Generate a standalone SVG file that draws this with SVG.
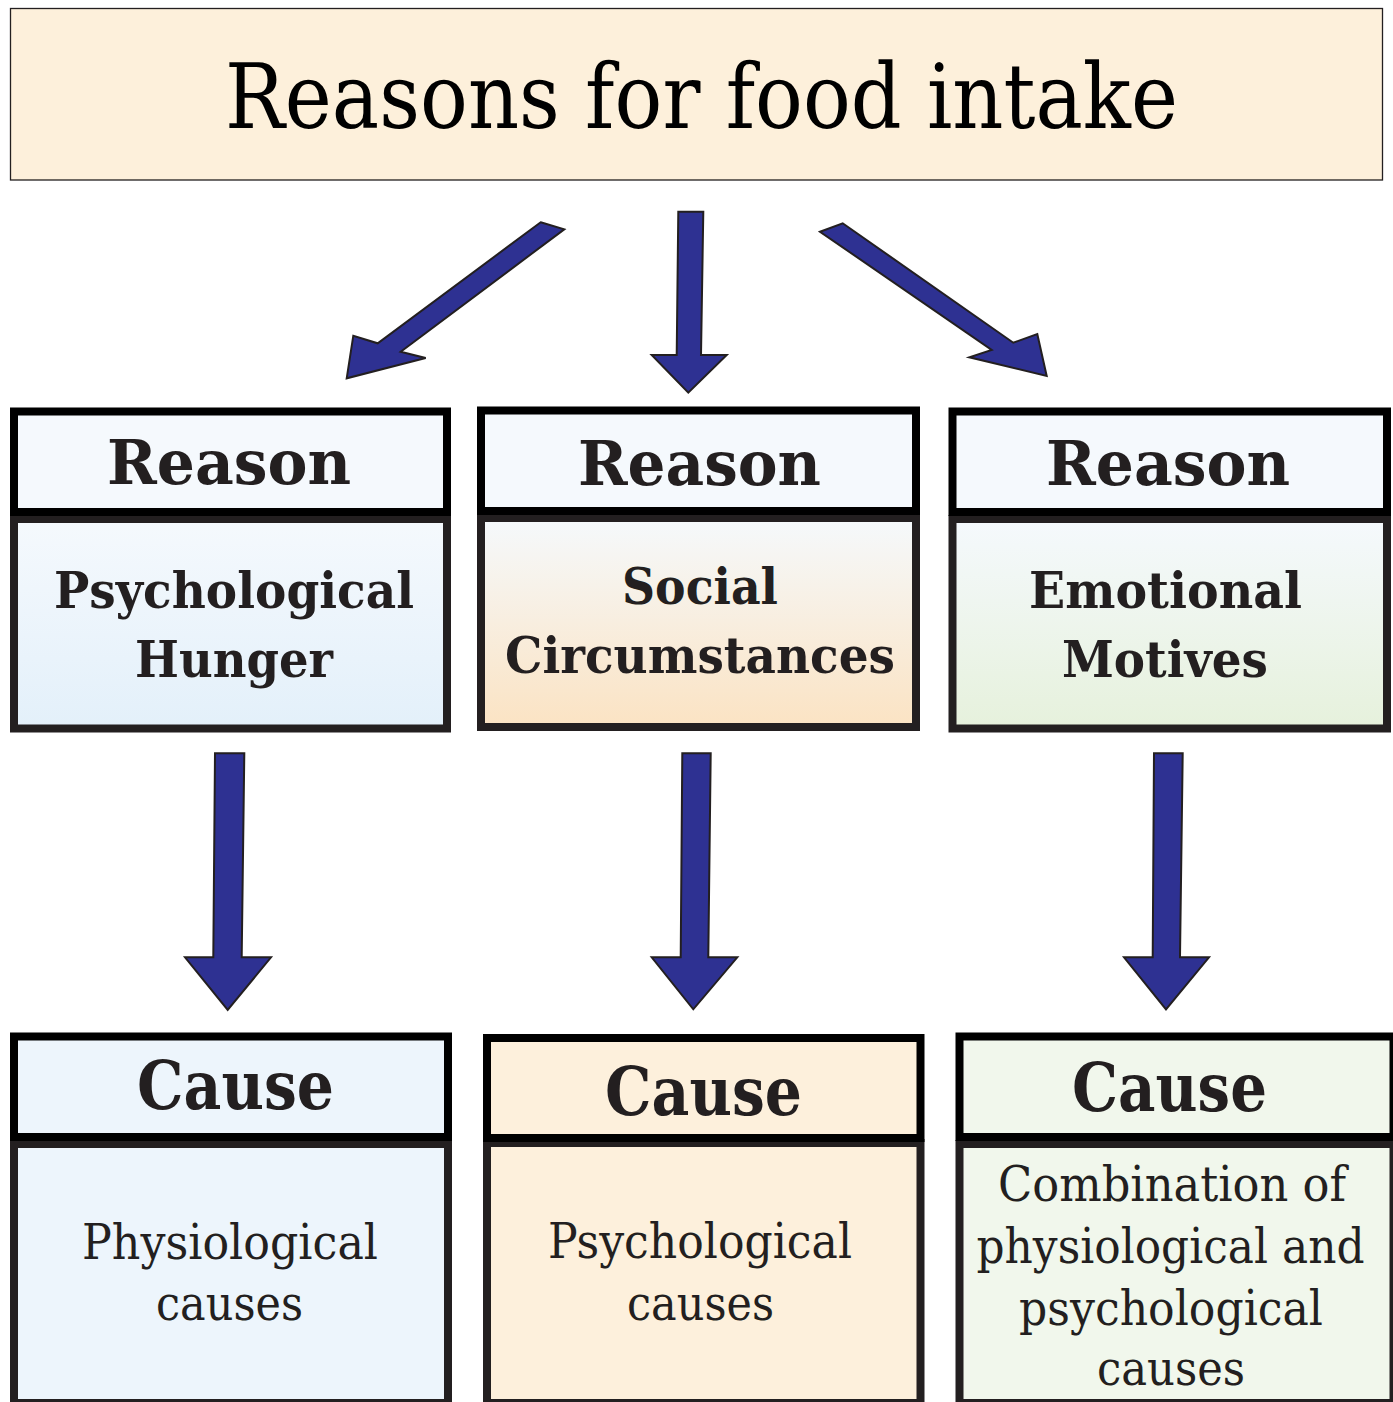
<svg xmlns="http://www.w3.org/2000/svg" width="1393" height="1402" viewBox="0 0 1393 1402">
<style>
.hdr{stroke:#000;stroke-width:8}
.rh{fill:#F5F9FD}
.bdy{stroke:#231F20;stroke-width:8}
.arr{fill:#2E3192;stroke:#231F20;stroke-width:2;stroke-linejoin:miter}
text{font-family:"DejaVu Serif","Liberation Serif",serif;fill:#231F20;text-anchor:middle}
.b{font-weight:bold}
.t{fill:#000}
.c1{fill:#EDF5FC}
.c2{fill:#FDF0DC}
.c3{fill:#F1F7EC}
</style>
<defs>
<linearGradient id="gBlue" x1="0" y1="0" x2="0" y2="1"><stop offset="0" stop-color="#F5F9FD"/><stop offset="1" stop-color="#E3F0FA"/></linearGradient>
<linearGradient id="gPeach" x1="0" y1="0" x2="0" y2="1"><stop offset="0" stop-color="#F5F9FC"/><stop offset="1" stop-color="#FBE3C3"/></linearGradient>
<linearGradient id="gGreen" x1="0" y1="0" x2="0" y2="1"><stop offset="0" stop-color="#F5F9FD"/><stop offset="1" stop-color="#E6F1DC"/></linearGradient>
</defs>
<rect width="1393" height="1402" fill="#fff"/>
<g id="title">
<rect x="10.5" y="8.5" width="1372" height="171.5" fill="#FDF0DB" stroke="#231F20" stroke-width="1.3"/>
<text class="t" x="701.5" y="128" font-size="90" textLength="953" lengthAdjust="spacingAndGlyphs">Reasons for food intake</text>
</g>
<g id="connectors">
<polygon class="arr" points="540.7,222.3 564.3,229.3 400.7,351.7 425.7,358 346.7,378.3 353.3,335.7 377.7,343.3"/>
<polygon class="arr" points="678.3,211.7 703.3,211.7 701,355 726.7,355 688.3,392.7 651.7,355 676.7,355"/>
<polygon class="arr" points="820,231.7 842.7,223.3 1013.3,342.7 1037.3,334 1046.7,376 969.3,357.3 991.7,350"/>
<polygon class="arr" points="215,753.3 244.3,753.3 241.7,957.3 271,957.3 227.7,1010 185,957.3 213.3,957.3"/>
<polygon class="arr" points="682.3,753.3 710.7,753.3 708.3,957.3 737.3,957.3 693.3,1009.3 651.7,957.3 680.7,957.3"/>
<polygon class="arr" points="1154,753.3 1182.7,753.3 1180,957.3 1209,957.3 1166,1009.3 1124,957.3 1152.7,957.3"/>
</g>
<g id="reason1">
<rect class="bdy" x="14" y="519" width="433" height="209.5" fill="url(#gBlue)"/>
<rect class="hdr rh" x="14" y="411.5" width="433" height="100.5"/>
<text class="b" x="229" y="484" font-size="62" textLength="244" lengthAdjust="spacingAndGlyphs">Reason</text>
<text class="b" x="234" y="608" font-size="50" textLength="360" lengthAdjust="spacingAndGlyphs">Psychological</text>
<text class="b" x="234" y="677" font-size="50" textLength="198" lengthAdjust="spacingAndGlyphs">Hunger</text>
</g>
<g id="reason2">
<rect class="bdy" x="481" y="518" width="435" height="209" fill="url(#gPeach)"/>
<rect class="hdr rh" x="481" y="410.5" width="435" height="100.5"/>
<text class="b" x="699.5" y="485" font-size="62" textLength="243" lengthAdjust="spacingAndGlyphs">Reason</text>
<text class="b" x="700" y="604" font-size="50" textLength="156" lengthAdjust="spacingAndGlyphs">Social</text>
<text class="b" x="700" y="673" font-size="50" textLength="390" lengthAdjust="spacingAndGlyphs">Circumstances</text>
</g>
<g id="reason3">
<rect class="bdy" x="952.5" y="519" width="434.5" height="209.5" fill="url(#gGreen)"/>
<rect class="hdr rh" x="952.5" y="411.5" width="434.5" height="100.5"/>
<text class="b" x="1168" y="485" font-size="62" textLength="244" lengthAdjust="spacingAndGlyphs">Reason</text>
<text class="b" x="1165.5" y="608" font-size="50" textLength="273" lengthAdjust="spacingAndGlyphs">Emotional</text>
<text class="b" x="1165" y="677" font-size="50" textLength="206" lengthAdjust="spacingAndGlyphs">Motives</text>
</g>
<g id="cause1">
<rect class="bdy c1" x="14" y="1144" width="434" height="259"/>
<rect class="hdr c1" x="14" y="1036.5" width="434" height="100.5"/>
<text class="b" x="235.5" y="1109" font-size="67" textLength="197" lengthAdjust="spacingAndGlyphs">Cause</text>
<text x="230" y="1259" font-size="48" textLength="296" lengthAdjust="spacingAndGlyphs">Physiological</text>
<text x="229.5" y="1320" font-size="48" textLength="147" lengthAdjust="spacingAndGlyphs">causes</text>
</g>
<g id="cause2">
<rect class="bdy c2" x="487" y="1143" width="433.5" height="260"/>
<rect class="hdr c2" x="487" y="1038" width="433.5" height="100"/>
<text class="b" x="703.5" y="1115" font-size="67" textLength="197" lengthAdjust="spacingAndGlyphs">Cause</text>
<text x="700" y="1258" font-size="48" textLength="304" lengthAdjust="spacingAndGlyphs">Psychological</text>
<text x="700.5" y="1320" font-size="48" textLength="147" lengthAdjust="spacingAndGlyphs">causes</text>
</g>
<g id="cause3">
<rect class="bdy c3" x="959.5" y="1144" width="434" height="259"/>
<rect class="hdr c3" x="959.5" y="1036.5" width="434" height="100.5"/>
<text class="b" x="1169.5" y="1111" font-size="67" textLength="195" lengthAdjust="spacingAndGlyphs">Cause</text>
<text x="1172" y="1201" font-size="48" textLength="348" lengthAdjust="spacingAndGlyphs">Combination of</text>
<text x="1170.5" y="1263" font-size="48" textLength="388" lengthAdjust="spacingAndGlyphs">physiological and</text>
<text x="1171" y="1325" font-size="48" textLength="304" lengthAdjust="spacingAndGlyphs">psychological</text>
<text x="1171" y="1385" font-size="48" textLength="148" lengthAdjust="spacingAndGlyphs">causes</text>
</g>
</svg>
